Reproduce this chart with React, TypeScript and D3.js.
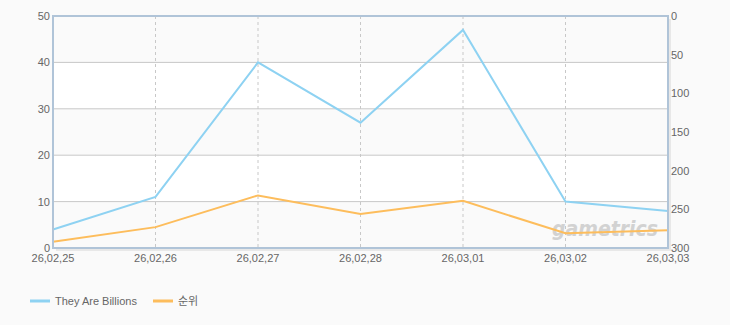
import React from "react";
import * as d3 from "d3";

const dates = ["26,02,25", "26,02,26", "26,02,27", "26,02,28", "26,03,01", "26,03,02", "26,03,03"];
const billions = [4, 11, 40, 27, 47, 10, 8];
const rank = [292, 273, 232, 256, 239, 281, 277];
const leftTicks = [0, 10, 20, 30, 40, 50];
const rightTicks = [0, 50, 100, 150, 200, 250, 300];
const seriesNames = ["They Are Billions", "순위"];

const W = 730, H = 325;
const M = { left: 53, right: 668, top: 16, bottom: 248 };
const BLUE = "#8ed2f2";
const ORANGE = "#fdbd5c";
const FONT = "'Liberation Sans', Arial, sans-serif";

export default function App() {
  const x = d3.scalePoint<string>().domain(dates).range([M.left, M.right]);
  const yL = d3.scaleLinear().domain([0, 50]).range([M.bottom, M.top]);
  const yR = d3.scaleLinear().domain([0, 300]).range([M.top, M.bottom]);
  const lineL = d3.line<number>().x((_, i) => x(dates[i])!).y((d) => yL(d));
  const lineR = d3.line<number>().x((_, i) => x(dates[i])!).y((d) => yR(d));
  const bands = leftTicks.slice(0, -1).map((t, i) => ({ t0: t, t1: leftTicks[i + 1], gray: i % 2 === 0 }));

  return (
    <svg width={W} height={H} style={{ position: "absolute", left: 0, top: 0 }} fontFamily={FONT}>
      <rect x={0} y={0} width={W} height={H} fill="#fafafa" />
      <rect x={M.left + 3} y={M.top + 3} width={M.right - M.left} height={M.bottom - M.top} fill="#e8e8e8" />
      <rect x={M.left} y={M.top} width={M.right - M.left} height={M.bottom - M.top} fill="#ffffff" />
      {bands.map((b, i) => (
        <rect key={i} x={M.left} y={yL(b.t1)} width={M.right - M.left} height={yL(b.t0) - yL(b.t1)} fill={b.gray ? "#fafafa" : "#ffffff"} />
      ))}
      {leftTicks.slice(1, -1).map((t) => (
        <line key={t} x1={M.left} x2={M.right} y1={yL(t)} y2={yL(t)} stroke="#c8c8c8" strokeWidth={1} />
      ))}
      {dates.slice(1, -1).map((d) => (
        <line key={d} x1={x(d)!} x2={x(d)!} y1={M.top} y2={M.bottom} stroke="#c8c8c8" strokeWidth={1} strokeDasharray="3,3" />
      ))}
      <text x={605} y={236} textAnchor="middle" fontSize={22} fontWeight="bold" fontStyle="italic" fill="#c9c9c9" opacity={0.8} fontFamily="'DejaVu Sans', sans-serif" textLength={106} lengthAdjust="spacingAndGlyphs">gametrics</text>
      <path d={lineR(rank)!} fill="none" stroke={ORANGE} strokeWidth={2} />
      <path d={lineL(billions)!} fill="none" stroke={BLUE} strokeWidth={2} />
      <rect x={M.left} y={M.top} width={M.right - M.left} height={M.bottom - M.top} fill="none" stroke="#b0c4d8" strokeWidth={2} />
      {leftTicks.map((t) => (
        <text key={t} x={M.left - 3} y={yL(t) + 4} textAnchor="end" fontSize={11} fill="#666">{t}</text>
      ))}
      {rightTicks.map((t) => (
        <text key={t} x={M.right + 3} y={yR(t) + 4} textAnchor="start" fontSize={11} fill="#666">{t}</text>
      ))}
      {dates.map((d) => (
        <text key={d} x={x(d)!} y={M.bottom + 14} textAnchor="middle" fontSize={11} fill="#666">{d}</text>
      ))}
      <g transform="translate(30,301)">
        <line x1={0} x2={20} y1={0} y2={0} stroke={BLUE} strokeWidth={3} />
        <text x={25} y={4} fontSize={11} fill="#666">{seriesNames[0]}</text>
        <line x1={123} x2={143} y1={0} y2={0} stroke={ORANGE} strokeWidth={3} />
        <text x={148} y={4} fontSize={11} fill="#666" fontFamily="'Noto Sans CJK KR', sans-serif">{seriesNames[1]}</text>
      </g>
    </svg>
  );
}
